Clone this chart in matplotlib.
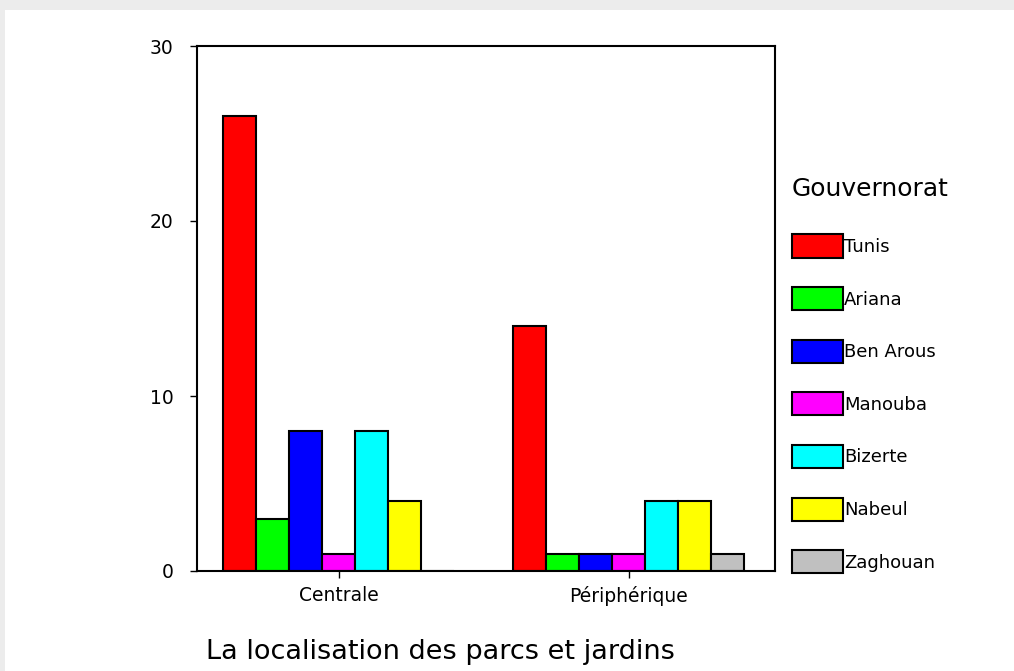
import matplotlib
matplotlib.use('Agg')
import matplotlib.pyplot as plt
from matplotlib.patches import Rectangle
import numpy as np

categories = ['Centrale', 'Périphérique']
governorats = ['Tunis', 'Ariana', 'Ben Arous', 'Manouba', 'Bizerte', 'Nabeul', 'Zaghouan']
counts = {
    'Tunis': [26, 14],
    'Ariana': [3, 1],
    'Ben Arous': [8, 1],
    'Manouba': [1, 1],
    'Bizerte': [8, 4],
    'Nabeul': [4, 4],
    'Zaghouan': [0, 1],
}
colors = ['#ff0000', '#00ff00', '#0000ff', '#ff00ff', '#00ffff', '#ffff00', '#c0c0c0']

plt.rcParams['font.family'] = ['DejaVu Sans']

fig = plt.figure(figsize=(10.14, 6.71), dpi=100)
fig.patch.set_facecolor('#ececec')
fig.add_artist(Rectangle((5 / 1014, 0), 1, 661 / 671, transform=fig.transFigure,
                         facecolor='white', edgecolor='none', zorder=-1))

ax = fig.add_axes([197 / 1014, 1 - 571 / 671, 578 / 1014, 525 / 671])

x = np.arange(len(categories))
w = 0.1138
handles = []
for j, g in enumerate(governorats):
    b = ax.bar(x + (j - 3) * w, counts[g], width=w, color=colors[j],
               edgecolor='black', linewidth=1.5, label=g)
    handles.append(b)

ax.set_xlim(-0.488, 1.505)
ax.set_ylim(0, 30)
ax.set_yticks([0, 10, 20, 30])
ax.set_xticks(x)
ax.set_xticklabels(categories)
ax.tick_params(axis='both', direction='out', length=5, width=1, labelsize=13.5)
ax.tick_params(axis='y', pad=12)
ax.tick_params(axis='x', pad=6)
for s in ax.spines.values():
    s.set_linewidth(1.5)

leg = ax.legend(handles=handles, loc='upper left',
                bbox_to_anchor=(783 / 1014, 1 - 168 / 671), bbox_transform=fig.transFigure,
                frameon=False, title='Gouvernorat', title_fontsize=18, fontsize=13,
                handlelength=2.83, handleheight=1.6, handletextpad=0.05,
                labelspacing=1.63, borderpad=0, alignment='left')
leg._legend_box.sep = 24

fig.text(440 / 1014, 1 - 652 / 671, 'La localisation des parcs et jardins',
         ha='center', va='center', fontsize=19.5)

fig.savefig('out.png', dpi=100, facecolor=fig.get_facecolor())
